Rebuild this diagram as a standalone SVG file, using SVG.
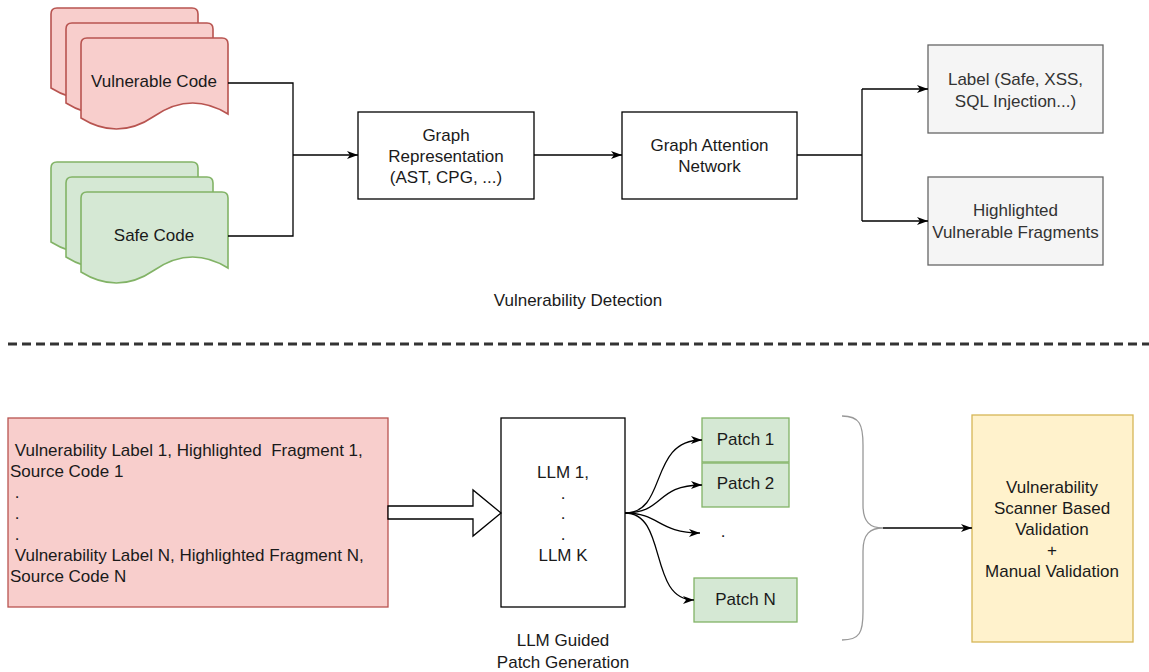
<svg xmlns="http://www.w3.org/2000/svg" width="1149" height="672" viewBox="0 0 1149 672">
<style>
text{font-family:"Liberation Sans",Arial,Helvetica,sans-serif;font-size:17px;fill:#1a1a1a}
.c{text-anchor:middle}
.g{fill:#333}
.docR{fill:#f8cecc;stroke:#b85450;stroke-width:1.6}
.docG{fill:#d5e8d4;stroke:#82b366;stroke-width:1.6}
.box{fill:#fff;stroke:#000;stroke-width:1.3}
.gray{fill:#f5f5f5;stroke:#666;stroke-width:1.3}
.grn{fill:#d5e8d4;stroke:#82b366;stroke-width:1.3}
.edge{fill:none;stroke:#000;stroke-width:1.3}
</style>
<defs>
<marker id="arr" markerWidth="12" markerHeight="10" refX="11" refY="4" orient="auto" markerUnits="userSpaceOnUse">
<path d="M0,0 L11,4 L0,8 L3,4 Z" fill="#000"/>
</marker>
<path id="doc" d="M0,6 Q0,0 6,0 L141,0 Q147,0 147,6 L147,76 Q110,53 73.5,78 Q37,103 0,80 Z"/>
</defs>

<g id="vulnerable-code">
<use href="#doc" class="docR" x="51" y="8"/>
<use href="#doc" class="docR" x="66" y="23"/>
<use href="#doc" class="docR" x="81" y="38"/>
<text class="c" x="154" y="87">Vulnerable Code</text>
</g>

<g id="safe-code">
<use href="#doc" class="docG" x="51" y="162"/>
<use href="#doc" class="docG" x="66" y="177"/>
<use href="#doc" class="docG" x="81" y="192"/>
<text class="c" x="154" y="241">Safe Code</text>
</g>

<g id="graph-representation">
<rect class="box" x="358" y="112" width="176" height="87"/>
<text class="c" x="446" y="141">Graph</text>
<text class="c" x="446" y="162">Representation</text>
<text class="c" x="446" y="183">(AST, CPG, ...)</text>
</g>

<g id="graph-attention-network">
<rect class="box" x="622" y="112" width="175" height="87"/>
<text class="c" x="709.5" y="151">Graph Attention</text>
<text class="c" x="709.5" y="172">Network</text>
</g>

<g id="label-output">
<rect class="gray" x="928" y="45" width="175" height="88"/>
<text class="c g" x="1015.5" y="85">Label (Safe, XSS,</text>
<text class="c g" x="1015.5" y="107">SQL Injection...)</text>
</g>

<g id="highlighted-output">
<rect class="gray" x="928" y="177" width="175" height="88"/>
<text class="c g" x="1015.5" y="216">Highlighted</text>
<text class="c g" x="1015.5" y="238">Vulnerable Fragments</text>
</g>

<g id="detection-label">
<text class="c" x="578" y="306" font-size="16.3">Vulnerability Detection</text>
</g>

<g id="separator">
<line x1="8" y1="344" x2="1149" y2="344" stroke="#333" stroke-width="3" stroke-dasharray="9 5"/>
</g>

<g id="input-list">
<rect x="8" y="418" width="380" height="189" fill="#f8cecc" stroke="#b85450" stroke-width="1.3"/>
<text x="10" y="456" xml:space="preserve"> Vulnerability Label 1, Highlighted  Fragment 1,</text>
<text x="10" y="477">Source Code 1</text>
<text x="10" y="498" xml:space="preserve"> .</text>
<text x="10" y="519" xml:space="preserve"> .</text>
<text x="10" y="540" xml:space="preserve"> .</text>
<text x="10" y="561" xml:space="preserve"> Vulnerability Label N, Highlighted Fragment N,</text>
<text x="10" y="582">Source Code N</text>
</g>

<g id="llm-box">
<rect class="box" x="501" y="418" width="124" height="189"/>
<text class="c" x="563" y="478">LLM 1,</text>
<text class="c" x="563" y="499">.</text>
<text class="c" x="563" y="519">.</text>
<text class="c" x="563" y="540">.</text>
<text class="c" x="563" y="561">LLM K</text>
</g>

<g id="llm-label">
<text class="c" x="563" y="646">LLM Guided</text>
<text class="c" x="563" y="668">Patch Generation</text>
</g>

<g id="patch-1">
<rect class="grn" x="702" y="418" width="87" height="44"/>
<text class="c" x="745.5" y="445">Patch 1</text>
</g>
<g id="patch-2">
<rect class="grn" x="702" y="463" width="87" height="44"/>
<text class="c" x="745.5" y="489">Patch 2</text>
</g>
<g id="patch-dots">
<text class="c" x="723" y="537">.</text>
</g>
<g id="patch-n">
<rect class="grn" x="694" y="578" width="103" height="44"/>
<text class="c" x="745.5" y="605">Patch N</text>
</g>

<g id="validation">
<rect x="972" y="415" width="161" height="227" fill="#fff2cc" stroke="#d6b656" stroke-width="1.3"/>
<text class="c" x="1052" y="493">Vulnerability</text>
<text class="c" x="1052" y="514">Scanner Based</text>
<text class="c" x="1052" y="535">Validation</text>
<text class="c" x="1052" y="556">+</text>
<text class="c" x="1052" y="577">Manual Validation</text>
</g>

<g id="brace">
<path d="M842,416 C860,416 863,425 863,445 L863,505 C863,522 870,528 883,528 C870,528 863,534 863,551 L863,612 C863,632 860,640 842,640" fill="none" stroke="#999" stroke-width="1.3"/>
</g>

<g id="connectors">
<path class="edge" d="M228,83 L293,83 L293,236 L228,236"/>
<path class="edge" d="M293,155 L358,155" marker-end="url(#arr)"/>
<path class="edge" d="M534,155 L622,155" marker-end="url(#arr)"/>
<path class="edge" d="M797,155 L862,155"/>
<path class="edge" d="M862,89 L862,221"/>
<path class="edge" d="M862,89 L928,89" marker-end="url(#arr)"/>
<path class="edge" d="M862,221 L928,221" marker-end="url(#arr)"/>
<polygon points="388,506 473,506 473,490 501,513 473,536 473,519 388,519" fill="#fff" stroke="#000" stroke-width="1.3"/>
<path class="edge" d="M625,513 C668,513 648,440 702,440" marker-end="url(#arr)"/>
<path class="edge" d="M625,513 C665,513 655,485 702,485" marker-end="url(#arr)"/>
<path class="edge" d="M625,513 C660,513 658,533 700,533" marker-end="url(#arr)"/>
<path class="edge" d="M625,513 C668,513 648,600 694,600" marker-end="url(#arr)"/>
<path class="edge" d="M883,528 L972,528" marker-end="url(#arr)"/>
</g>
</svg>
